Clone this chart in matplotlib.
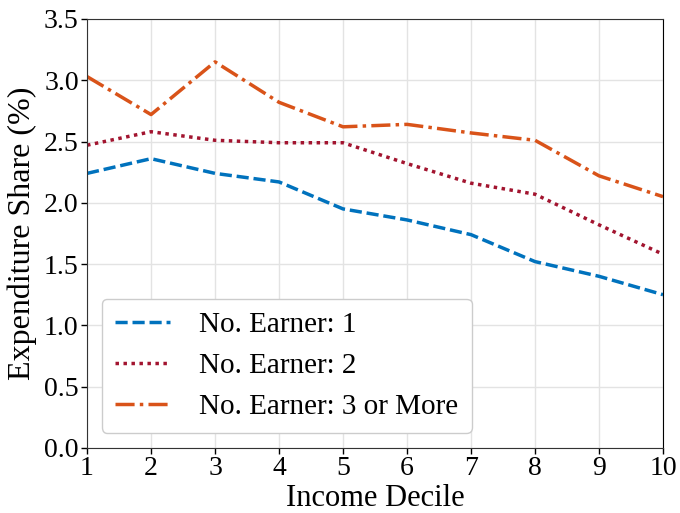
import matplotlib
matplotlib.use("Agg")
import matplotlib.pyplot as plt

plt.rcParams["font.family"] = ["Liberation Serif", "DejaVu Serif"]

deciles = [1, 2, 3, 4, 5, 6, 7, 8, 9, 10]
earner_1 = [2.24, 2.36, 2.24, 2.17, 1.95, 1.86, 1.74, 1.52, 1.40, 1.25]
earner_2 = [2.47, 2.58, 2.51, 2.49, 2.49, 2.32, 2.16, 2.07, 1.82, 1.58]
earner_3plus = [3.03, 2.72, 3.15, 2.82, 2.62, 2.64, 2.57, 2.51, 2.22, 2.05]
labels = ["No. Earner: 1", "No. Earner: 2", "No. Earner: 3 or More"]
y_ticks = [0.0, 0.5, 1.0, 1.5, 2.0, 2.5, 3.0, 3.5]

fig, ax = plt.subplots(figsize=(6.8, 5.13), dpi=100)
fig.subplots_adjust(left=0.128, right=0.975, top=0.963, bottom=0.127)

ax.plot(deciles, earner_1, ls=(0, (3.5, 1.4)), color="#0072BD", lw=2.5, label=labels[0])
ax.plot(deciles, earner_2, ls=(0, (1, 1.3)), color="#A2142F", lw=2.5, label=labels[1])
ax.plot(deciles, earner_3plus, ls=(0, (5.5, 1.5, 1, 1.5)), color="#D95319", lw=2.5, label=labels[2])

ax.set_xlim(1, 10)
ax.set_ylim(0, 3.5)
ax.set_xticks(deciles)
ax.set_yticks(y_ticks)
ax.set_yticklabels([f"{v:.1f}" for v in y_ticks])
ax.tick_params(labelsize=20, direction="out", length=4, width=1, pad=2)
ax.grid(True, color="#e3e3e3", lw=1)
ax.set_axisbelow(True)
for side in ["left", "bottom", "top"]:
    ax.spines[side].set_color("#333333")
ax.spines["right"].set_color("black")

ax.set_xlabel("Income Decile", fontsize=22, labelpad=2)
ax.set_ylabel("Expenditure Share (%)", fontsize=23, labelpad=5)

leg = ax.legend(loc="lower left", fontsize=21, frameon=True, fancybox=True,
                edgecolor="#cccccc", framealpha=1, handlelength=1.9,
                borderaxespad=0.5, labelspacing=0.5, handletextpad=1.0,
                borderpad=0.45)

fig.savefig("out.png", dpi=100)
